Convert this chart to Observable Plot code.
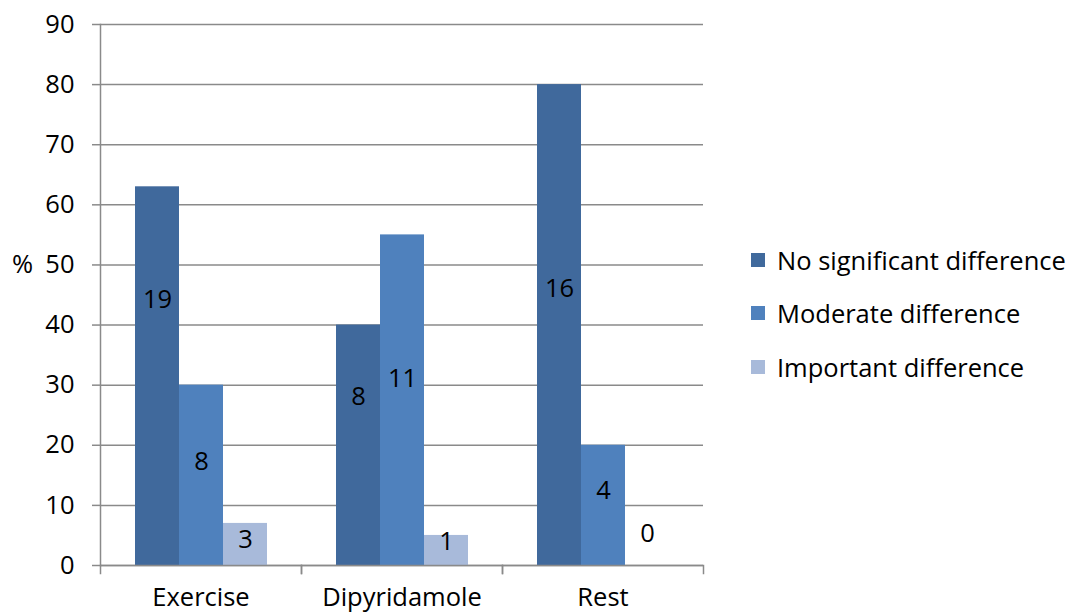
<!DOCTYPE html>
<html>
<head>
<meta charset="utf-8">
<script src="https://cdn.jsdelivr.net/npm/d3@7"></script>
<script src="https://cdn.jsdelivr.net/npm/@observablehq/plot@0.6"></script>
<style>
  html, body { margin: 0; padding: 0; background: #fff; }
  #wrap { position: relative; width: 1073px; height: 615px; font-family: "Open Sans", sans-serif; }
  #legend { position: absolute; left: 751px; top: 233px; }
  .row { display: flex; align-items: center; height: 53.5px; font-size: 25.5px; color: #000; white-space: nowrap; }
  .sw { width: 14px; height: 14px; margin-right: 12px; }
</style>
</head>
<body>
<div id="wrap"><div id="legend"></div></div>
<script>
// ---- data ----
const categories = ["Exercise", "Dipyridamole", "Rest"];
const series = ["No significant difference", "Moderate difference", "Important difference"];
const noSignificantPct = [63, 40, 80];
const moderatePct = [30, 55, 20];
const importantPct = [7, 5, 0];
const noSignificantN = [19, 8, 16];
const moderateN = [8, 11, 4];
const importantN = [3, 1, 0];
// where each count label sits, in % units
const noSignificantLabelAt = [44.2, 28.1, 46.1];
const moderateLabelAt = [17.2, 31.1, 12.5];
const importantLabelAt = [4.2, 3.9, 5.3];
const yTicks = [0, 10, 20, 30, 40, 50, 60, 70, 80, 90];
const colors = ["#40699C", "#4F81BD", "#A8BADA"];

const pcts = [noSignificantPct, moderatePct, importantPct];
const counts = [noSignificantN, moderateN, importantN];
const labelAt = [noSignificantLabelAt, moderateLabelAt, importantLabelAt];
const rows = [];
categories.forEach((c, ci) => series.forEach((s, si) => rows.push({
  category: c, series: s, pct: pcts[si][ci], n: counts[si][ci], labelAt: labelAt[si][ci]
})));

const gray = "#8a8a8a";
const font = 25.5;

const chart = Plot.plot({
  width: 1073,
  height: 615,
  marginLeft: 100,
  marginRight: 370,
  marginTop: 24,
  marginBottom: 50,
  style: { fontFamily: "'Open Sans', sans-serif", fontSize: font + "px", color: "#000", background: "transparent" },
  fx: { domain: categories, padding: 0, label: null },
  x: { domain: series, paddingInner: 0, paddingOuter: 0.784, axis: null },
  y: { domain: [0, 90], label: null },
  color: { domain: series, range: colors },
  marks: [
    Plot.gridY(yTicks, { stroke: gray, strokeOpacity: 1, strokeWidth: 1.5 }),
    Plot.barY(rows, { fx: "category", x: "series", y: "pct", fill: "series" }),
    Plot.text(rows, { fx: "category", x: "series", y: "labelAt", text: "n", fill: "#000", fontSize: font, lineAnchor: "middle" }),
    Plot.axisY(yTicks, { tickSize: 8, tickPadding: 18, stroke: gray, strokeWidth: 1.5, fill: "#000", fontSize: font, label: null }),
    Plot.frame({ anchor: "left", facet: "super", stroke: gray, strokeWidth: 1.5 }),
    Plot.ruleY([0], { stroke: gray, strokeWidth: 1.5 }),
    Plot.frame({ anchor: "left", insetTop: 541, insetBottom: -8, stroke: gray, strokeWidth: 1.5 }),
    Plot.frame({ anchor: "right", insetTop: 541, insetBottom: -8, stroke: gray, strokeWidth: 1.5 }),
    Plot.axisFx({ anchor: "bottom", tickSize: 0, tickPadding: 22, fontSize: font, label: null }),
    Plot.text([{ fx: "Exercise", y: 50, t: "%" }], { fx: "fx", y: "y", text: "t", frameAnchor: "left", textAnchor: "middle", dx: -78, fontSize: font, lineAnchor: "middle", fill: "#000" })
  ]
});
const wrap = document.getElementById("wrap");
wrap.insertBefore(chart, wrap.firstChild);

const legend = d3.select("#legend");
series.forEach((s, i) => {
  const r = legend.append("div").attr("class", "row");
  r.append("div").attr("class", "sw").style("background", colors[i]);
  r.append("span").text(s);
});
</script>
</body>
</html>
